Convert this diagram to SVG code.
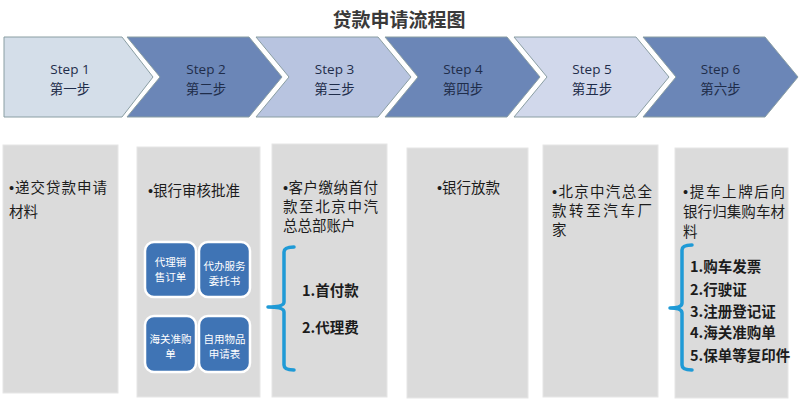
<svg xmlns="http://www.w3.org/2000/svg" width="800" height="406" viewBox="0 0 800 406">
<defs>
<style>
.title{font-family:"Noto Sans CJK SC","Liberation Sans",sans-serif;font-size:19px;font-weight:bold;fill:#3a3a3a;text-anchor:middle}
.chev{stroke:#8a9ea3;stroke-width:1}
.light1{fill:#d4dee9}
.light3{fill:#b8c4e0}
.light5{fill:#d1d8eb}
.dark{fill:#6b86b7}
.st{font-family:"Open Sans","Liberation Sans",sans-serif;font-size:13.5px;fill:#1f2d4a;text-anchor:middle}
.stc{font-family:"Noto Sans CJK SC",sans-serif;font-size:13.5px;fill:#1f2d4a;text-anchor:middle}
.box{fill:#dbdbdb;stroke:#e6e6e6;stroke-width:1}
.bt{font-family:"Noto Sans CJK SC",sans-serif;font-size:14.5px;fill:#1c1c1c}
.bu{font-family:"Liberation Sans",sans-serif}
.lt{font-family:"Noto Sans CJK SC",sans-serif;font-size:14.5px;font-weight:bold;fill:#1c1c1c}
.blue{fill:#3f74b5;stroke:#ffffff;stroke-width:2.5}
.wt{font-family:"Noto Sans CJK SC",sans-serif;font-size:10.5px;fill:#ffffff;text-anchor:middle}
.brace{fill:none;stroke:#1f9ad6;stroke-width:3.5;stroke-linecap:round;stroke-linejoin:round}
</style>
</defs>
<rect width="800" height="406" fill="#ffffff"/>
<text class="title" x="399" y="27">贷款申请流程图</text>

<g id="step1">
<path class="chev light1" d="M4,37 L122,37 L153,77 L122,117 L4,117 Z"/>
<text class="st" x="70" y="74">Step 1</text>
<text class="stc" x="70" y="94">第一步</text>
</g>
<g id="step2">
<path class="chev dark" d="M127,37 L249,37 L282,77 L249,117 L127,117 L160,77 Z"/>
<text class="st" x="206" y="74">Step 2</text>
<text class="stc" x="206" y="94">第二步</text>
</g>
<g id="step3">
<path class="chev light3" d="M256,37 L378,37 L411,77 L378,117 L256,117 L289,77 Z"/>
<text class="st" x="334.5" y="74">Step 3</text>
<text class="stc" x="334.5" y="94">第三步</text>
</g>
<g id="step4">
<path class="chev dark" d="M385,37 L507,37 L540,77 L507,117 L385,117 L418,77 Z"/>
<text class="st" x="463" y="74">Step 4</text>
<text class="stc" x="463" y="94">第四步</text>
</g>
<g id="step5">
<path class="chev light5" d="M514,37 L636,37 L669,77 L636,117 L514,117 L547,77 Z"/>
<text class="st" x="592" y="74">Step 5</text>
<text class="stc" x="592" y="94">第五步</text>
</g>
<g id="step6">
<path class="chev dark" d="M643,37 L765,37 L798,77 L765,117 L643,117 L676,77 Z"/>
<text class="st" x="720.5" y="74">Step 6</text>
<text class="stc" x="720.5" y="94">第六步</text>
</g>

<g id="box1">
<rect class="box" x="3" y="145" width="115" height="248"/>
<text class="bt" x="9" y="193" textLength="98" lengthAdjust="spacing"><tspan class="bu">•</tspan>递交贷款申请</text>
<text class="bt" x="9" y="217">材料</text>
</g>

<g id="box2">
<rect class="box" x="137" y="147" width="123" height="250"/>
<text class="bt" x="148" y="196"><tspan class="bu">•</tspan>银行审核批准</text>
<g id="doc1">
<rect class="blue" x="145" y="242" width="51" height="55" rx="9"/>
<text class="wt" x="170.5" y="266">代理销</text>
<text class="wt" x="170.5" y="281">售订单</text>
</g>
<g id="doc2">
<rect class="blue" x="199" y="242" width="51" height="55" rx="9"/>
<text class="wt" x="224.5" y="270">代办服务</text>
<text class="wt" x="224.5" y="285">委托书</text>
</g>
<g id="doc3">
<rect class="blue" x="145" y="316" width="51" height="56" rx="9"/>
<text class="wt" x="170.5" y="343">海关准购</text>
<text class="wt" x="170.5" y="358">单</text>
</g>
<g id="doc4">
<rect class="blue" x="199" y="316" width="51" height="56" rx="9"/>
<text class="wt" x="224.5" y="343">自用物品</text>
<text class="wt" x="224.5" y="358">申请表</text>
</g>
</g>

<g id="box3">
<rect class="box" x="272" y="144" width="115" height="253"/>
<text class="bt" x="283" y="193" textLength="95" lengthAdjust="spacing"><tspan class="bu">•</tspan>客户缴纳首付</text>
<text class="bt" x="283" y="212" textLength="95" lengthAdjust="spacing">款至北京中汽</text>
<text class="bt" x="283" y="231">总总部账户</text>
<path class="brace" d="M294,247 Q284,247 284,252 L284,302 Q284,307 268,307 Q284,307 284,312 L284,365 Q284,370 294,370"/>
<text class="lt" x="302" y="296">1.首付款</text>
<text class="lt" x="302" y="333">2.代理费</text>
</g>

<g id="box4">
<rect class="box" x="407" y="148" width="121" height="250"/>
<text class="bt" x="437" y="193"><tspan class="bu">•</tspan>银行放款</text>
</g>

<g id="box5">
<rect class="box" x="543" y="145" width="115" height="252"/>
<text class="bt" x="552" y="197" textLength="100" lengthAdjust="spacing"><tspan class="bu">•</tspan>北京中汽总全</text>
<text class="bt" x="552" y="216" textLength="100" lengthAdjust="spacing">款转至汽车厂</text>
<text class="bt" x="552" y="235">家</text>
</g>

<g id="box6">
<rect class="box" x="675" y="148" width="113" height="250"/>
<text class="bt" x="683" y="197" textLength="102" lengthAdjust="spacing"><tspan class="bu">•</tspan>提车上牌后向</text>
<text class="bt" x="683" y="217" textLength="102" lengthAdjust="spacing">银行归集购车材</text>
<text class="bt" x="683" y="237">料</text>
<path class="brace" d="M692,245 Q682,245 682,250 L682,303 Q682,308 670,308 Q682,308 682,313 L682,365 Q682,370 692,370"/>
<text class="lt" x="690" y="272">1.购车发票</text>
<text class="lt" x="690" y="295">2.行驶证</text>
<text class="lt" x="690" y="317">3.注册登记证</text>
<text class="lt" x="690" y="338">4.海关准购单</text>
<text class="lt" x="690" y="361">5.保单等复印件</text>
</g>

<g id="connectors"></g>
</svg>
